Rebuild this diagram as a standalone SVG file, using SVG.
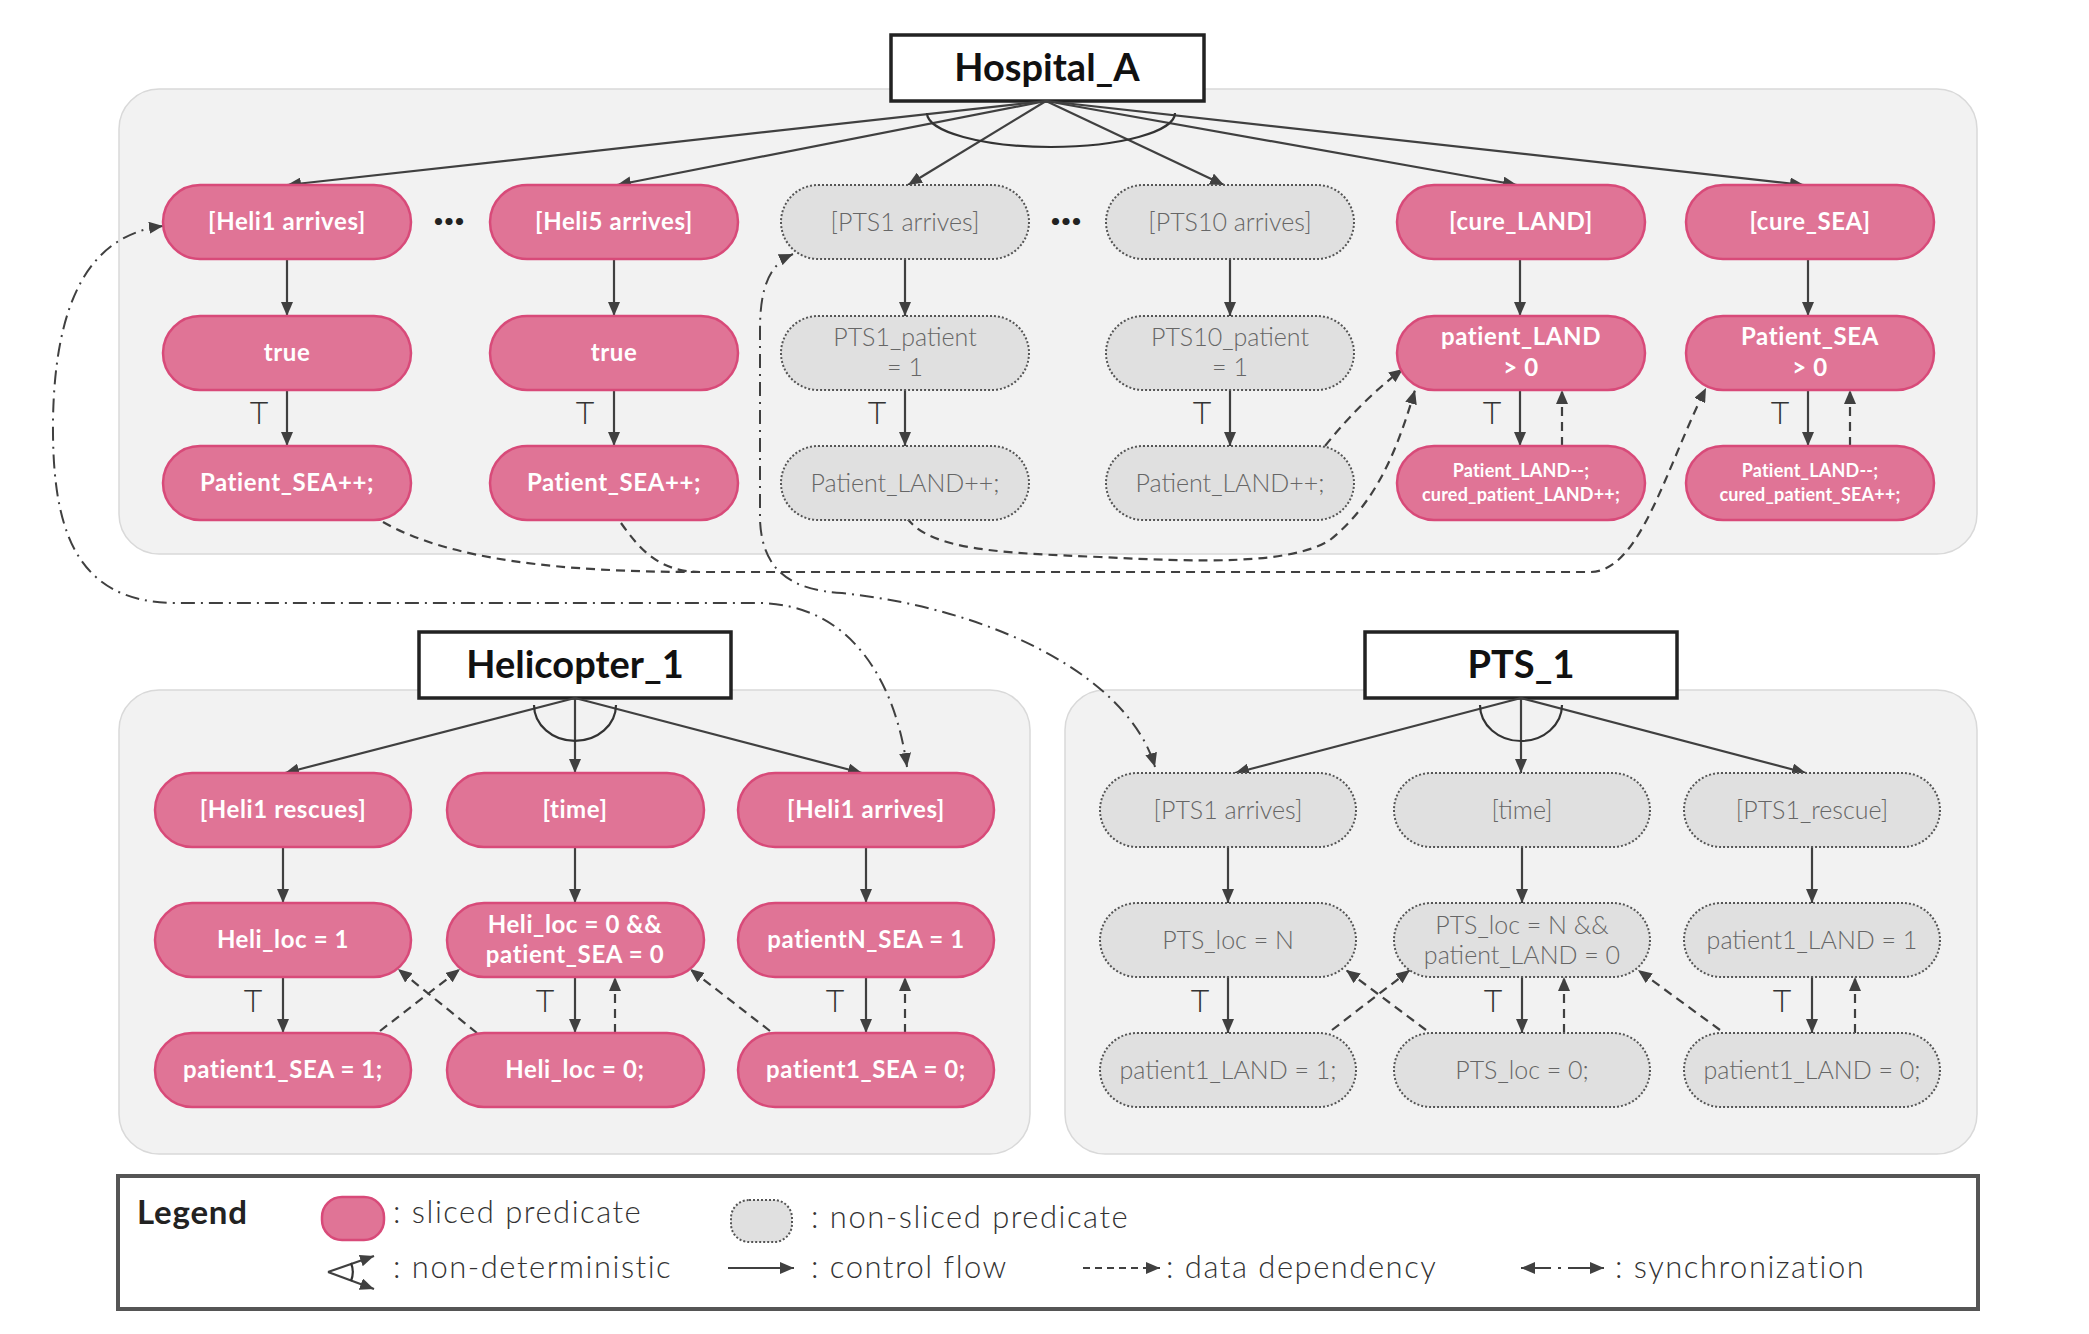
<svg xmlns="http://www.w3.org/2000/svg" width="2089" height="1334" viewBox="0 0 2089 1334">
<defs>
<marker id="ah" markerUnits="userSpaceOnUse" markerWidth="14" markerHeight="12" refX="14" refY="6" orient="auto-start-reverse" viewBox="0 0 14 12"><path d="M0,0 L14,6 L0,12 z" fill="#404040"/></marker>
</defs>
<style>
text{font-family:Lato,"Liberation Sans",sans-serif}
.panel{fill:#f2f2f2;stroke:#d9d9d9;stroke-width:1.5}
.tbox rect{fill:#fff;stroke:#222;stroke-width:3.5}
.tbox text{font-weight:700;font-size:38px;fill:#111;text-anchor:middle}
.pk rect{fill:#e07496;stroke:#d84a79;stroke-width:2.5}
.pk text{font-weight:700;font-size:24px;fill:#fff;text-anchor:middle;letter-spacing:0.6px}
.pk text.sm{font-size:18px;letter-spacing:0.2px}
.gr rect{fill:#e0e0e0;stroke:#555;stroke-width:2;stroke-dasharray:2 2}
.gr text{font-weight:300;font-size:25px;fill:#666;text-anchor:middle}
.cf{stroke:#404040;stroke-width:2.2;fill:none;marker-end:url(#ah)}
.dd{stroke:#404040;stroke-width:2.2;fill:none;stroke-dasharray:9 6;marker-end:url(#ah)}
.sy{stroke:#404040;stroke-width:2;fill:none;stroke-dasharray:14 6 2 6;marker-start:url(#ah);marker-end:url(#ah)}
.arc{stroke:#333;stroke-width:2.2;fill:none}
.T{font-weight:300;font-size:32px;fill:#333;text-anchor:middle}
.dots{font-weight:900;font-size:44px;fill:#222;text-anchor:middle}
.lg{font-weight:300;font-size:31px;fill:#333;letter-spacing:1.5px}
</style>

<rect class="panel" x="119" y="89" width="1858" height="465" rx="40"/>
<rect class="panel" x="119" y="690" width="911" height="464" rx="40"/>
<rect class="panel" x="1065" y="690" width="912" height="464" rx="40"/>

<g id="hospital_A" class="tbox"><rect x="891" y="35" width="313" height="66"/><text x="1047" y="81">Hospital_A</text></g>
<g id="helicopter_1" class="tbox"><rect x="419" y="632" width="312" height="66"/><text x="575" y="678">Helicopter_1</text></g>
<g id="pts_1" class="tbox"><rect x="1365" y="632" width="312" height="66"/><text x="1521" y="678">PTS_1</text></g>

<g id="connectors">
<path class="cf" d="M1046,101 L287,185"/>
<path class="cf" d="M1046,101 L617,185"/>
<path class="cf" d="M1046,101 L908,185"/>
<path class="cf" d="M1046,101 L1224,185"/>
<path class="cf" d="M1046,101 L1517,185"/>
<path class="cf" d="M1046,101 L1804,185"/>
<path class="arc" d="M927,113 A124,34 0 0 0 1175,113"/>
<path class="cf" d="M287,259 L287,316"/><path class="cf" d="M287,390 L287,446"/>
<path class="cf" d="M614,259 L614,316"/><path class="cf" d="M614,390 L614,446"/>
<path class="cf" d="M905,259 L905,316"/><path class="cf" d="M905,390 L905,446"/>
<path class="cf" d="M1230,259 L1230,316"/><path class="cf" d="M1230,390 L1230,446"/>
<path class="cf" d="M1520,259 L1520,316"/><path class="cf" d="M1520,390 L1520,446"/>
<path class="cf" d="M1808,259 L1808,316"/><path class="cf" d="M1808,390 L1808,446"/>
<path class="dd" d="M1562,446 L1562,390"/>
<path class="dd" d="M1850,446 L1850,390"/>
<path class="dd" d="M383,522 C450,560 560,572 700,572 L1590,572 C1640,572 1665,470 1706,388"/>
<path class="dd" d="M621,523 C640,550 660,572 700,572" style="marker-end:none"/>
<path class="dd" d="M907,518 C930,550 1000,553 1100,557 C1200,562 1290,565 1330,540 C1380,500 1400,440 1415,390"/>
<path class="dd" d="M1325,446 C1350,415 1375,390 1403,369"/>
<path class="sy" d="M163,226 C90,235 55,300 53,420 C52,520 70,603 176,603 L757,603 C850,603 895,680 907,767"/>
<path class="sy" d="M793,254 C768,265 760,290 760,330 L760,520 C762,570 790,590 842,593 C1000,610 1130,680 1155,767"/>

<path class="cf" d="M575,698 L285,773"/>
<path class="cf" d="M575,698 L575,773"/>
<path class="cf" d="M575,698 L862,773"/>
<path class="arc" d="M534,705 A41,36 0 0 0 616,705"/>
<path class="cf" d="M283,847 L283,903"/><path class="cf" d="M283,977 L283,1033"/>
<path class="cf" d="M575,847 L575,903"/><path class="cf" d="M575,977 L575,1033"/>
<path class="cf" d="M866,847 L866,903"/><path class="cf" d="M866,977 L866,1033"/>
<path class="dd" d="M615,1033 L615,977"/>
<path class="dd" d="M905,1033 L905,977"/>
<path class="dd" d="M380,1031 L460,969"/>
<path class="dd" d="M477,1033 L398,969"/>
<path class="dd" d="M770,1031 L690,969"/>

<path class="cf" d="M1521,698 L1235,773"/>
<path class="cf" d="M1521,698 L1521,773"/>
<path class="cf" d="M1521,698 L1806,773"/>
<path class="arc" d="M1480,705 A41,36 0 0 0 1562,705"/>
<path class="cf" d="M1228,847 L1228,903"/><path class="cf" d="M1228,977 L1228,1033"/>
<path class="cf" d="M1522,847 L1522,903"/><path class="cf" d="M1522,977 L1522,1033"/>
<path class="cf" d="M1812,847 L1812,903"/><path class="cf" d="M1812,977 L1812,1033"/>
<path class="dd" d="M1564,1033 L1564,977"/>
<path class="dd" d="M1855,1033 L1855,977"/>
<path class="dd" d="M1332,1030 L1410,970"/>
<path class="dd" d="M1426,1030 L1346,970"/>
<path class="dd" d="M1720,1030 L1638,970"/>
</g>

<g id="labels">
<text class="T" x="259" y="424">T</text>
<text class="T" x="585" y="424">T</text>
<text class="T" x="877" y="424">T</text>
<text class="T" x="1202" y="424">T</text>
<text class="T" x="1492" y="424">T</text>
<text class="T" x="1780" y="424">T</text>
<text class="T" x="253" y="1012">T</text>
<text class="T" x="545" y="1012">T</text>
<text class="T" x="835" y="1012">T</text>
<text class="T" x="1200" y="1012">T</text>
<text class="T" x="1493" y="1012">T</text>
<text class="T" x="1782" y="1012">T</text>
<text class="dots" x="449" y="225">...</text>
<text class="dots" x="1066" y="225">...</text>
</g>

<!-- Hospital nodes -->
<g id="h_heli1_arrives" class="pk"><rect x="163" y="185" width="248" height="74" rx="37"/><text x="287" y="230">[Heli1 arrives]</text></g>
<g id="h_heli5_arrives" class="pk"><rect x="490" y="185" width="248" height="74" rx="37"/><text x="614" y="230">[Heli5 arrives]</text></g>
<g id="h_pts1_arrives" class="gr"><rect x="781" y="185" width="248" height="74" rx="37"/><text x="905" y="231">[PTS1 arrives]</text></g>
<g id="h_pts10_arrives" class="gr"><rect x="1106" y="185" width="248" height="74" rx="37"/><text x="1230" y="231">[PTS10 arrives]</text></g>
<g id="h_cure_land" class="pk"><rect x="1397" y="185" width="248" height="74" rx="37"/><text x="1521" y="230">[cure_LAND]</text></g>
<g id="h_cure_sea" class="pk"><rect x="1686" y="185" width="248" height="74" rx="37"/><text x="1810" y="230">[cure_SEA]</text></g>

<g id="h_true1" class="pk"><rect x="163" y="316" width="248" height="74" rx="37"/><text x="287" y="361">true</text></g>
<g id="h_true5" class="pk"><rect x="490" y="316" width="248" height="74" rx="37"/><text x="614" y="361">true</text></g>
<g id="h_pts1_patient" class="gr"><rect x="781" y="316" width="248" height="74" rx="37"/><text x="905" y="346">PTS1_patient</text><text x="905" y="376">= 1</text></g>
<g id="h_pts10_patient" class="gr"><rect x="1106" y="316" width="248" height="74" rx="37"/><text x="1230" y="346">PTS10_patient</text><text x="1230" y="376">= 1</text></g>
<g id="h_patient_land" class="pk"><rect x="1397" y="316" width="248" height="74" rx="37"/><text x="1521" y="345">patient_LAND</text><text x="1521" y="376">&gt; 0</text></g>
<g id="h_patient_sea" class="pk"><rect x="1686" y="316" width="248" height="74" rx="37"/><text x="1810" y="345">Patient_SEA</text><text x="1810" y="376">&gt; 0</text></g>

<g id="h_sea_inc1" class="pk"><rect x="163" y="446" width="248" height="74" rx="37"/><text x="287" y="491">Patient_SEA++;</text></g>
<g id="h_sea_inc5" class="pk"><rect x="490" y="446" width="248" height="74" rx="37"/><text x="614" y="491">Patient_SEA++;</text></g>
<g id="h_land_inc1" class="gr"><rect x="781" y="446" width="248" height="74" rx="37"/><text x="905" y="492">Patient_LAND++;</text></g>
<g id="h_land_inc10" class="gr"><rect x="1106" y="446" width="248" height="74" rx="37"/><text x="1230" y="492">Patient_LAND++;</text></g>
<g id="h_cured_land" class="pk"><rect x="1397" y="446" width="248" height="74" rx="37"/><text class="sm" x="1521" y="477">Patient_LAND--;</text><text class="sm" x="1521" y="501">cured_patient_LAND++;</text></g>
<g id="h_cured_sea" class="pk"><rect x="1686" y="446" width="248" height="74" rx="37"/><text class="sm" x="1810" y="477">Patient_LAND--;</text><text class="sm" x="1810" y="501">cured_patient_SEA++;</text></g>

<!-- Helicopter nodes -->
<g id="c_heli1_rescues" class="pk"><rect x="155" y="773" width="256" height="74" rx="37"/><text x="283" y="818">[Heli1 rescues]</text></g>
<g id="c_time" class="pk"><rect x="447" y="773" width="257" height="74" rx="37"/><text x="575" y="818">[time]</text></g>
<g id="c_heli1_arrives" class="pk"><rect x="738" y="773" width="256" height="74" rx="37"/><text x="866" y="818">[Heli1 arrives]</text></g>
<g id="c_heli_loc1" class="pk"><rect x="155" y="903" width="256" height="74" rx="37"/><text x="283" y="948">Heli_loc = 1</text></g>
<g id="c_heli_loc0_cond" class="pk"><rect x="447" y="903" width="257" height="74" rx="37"/><text x="575" y="933">Heli_loc = 0 &amp;&amp;</text><text x="575" y="963">patient_SEA = 0</text></g>
<g id="c_patientN_sea" class="pk"><rect x="738" y="903" width="256" height="74" rx="37"/><text x="866" y="948">patientN_SEA = 1</text></g>
<g id="c_patient1_sea1" class="pk"><rect x="155" y="1033" width="256" height="74" rx="37"/><text x="283" y="1078">patient1_SEA = 1;</text></g>
<g id="c_heli_loc0" class="pk"><rect x="447" y="1033" width="257" height="74" rx="37"/><text x="575" y="1078">Heli_loc = 0;</text></g>
<g id="c_patient1_sea0" class="pk"><rect x="738" y="1033" width="256" height="74" rx="37"/><text x="866" y="1078">patient1_SEA = 0;</text></g>

<!-- PTS nodes -->
<g id="p_pts1_arrives" class="gr"><rect x="1100" y="773" width="256" height="74" rx="37"/><text x="1228" y="819">[PTS1 arrives]</text></g>
<g id="p_time" class="gr"><rect x="1394" y="773" width="256" height="74" rx="37"/><text x="1522" y="819">[time]</text></g>
<g id="p_pts1_rescue" class="gr"><rect x="1684" y="773" width="256" height="74" rx="37"/><text x="1812" y="819">[PTS1_rescue]</text></g>
<g id="p_pts_locN" class="gr"><rect x="1100" y="903" width="256" height="74" rx="37"/><text x="1228" y="949">PTS_loc = N</text></g>
<g id="p_pts_locN_cond" class="gr"><rect x="1394" y="903" width="256" height="74" rx="37"/><text x="1522" y="934">PTS_loc = N &amp;&amp;</text><text x="1522" y="964">patient_LAND = 0</text></g>
<g id="p_patient1_land" class="gr"><rect x="1684" y="903" width="256" height="74" rx="37"/><text x="1812" y="949">patient1_LAND = 1</text></g>
<g id="p_patient1_land1" class="gr"><rect x="1100" y="1033" width="256" height="74" rx="37"/><text x="1228" y="1079">patient1_LAND = 1;</text></g>
<g id="p_pts_loc0" class="gr"><rect x="1394" y="1033" width="256" height="74" rx="37"/><text x="1522" y="1079">PTS_loc = 0;</text></g>
<g id="p_patient1_land0" class="gr"><rect x="1684" y="1033" width="256" height="74" rx="37"/><text x="1812" y="1079">patient1_LAND = 0;</text></g>

<!-- Legend -->
<g id="legend">
<rect x="118" y="1176" width="1860" height="133" fill="#fff" stroke="#555" stroke-width="4"/>
<text x="137" y="1224" font-weight="700" font-size="33" letter-spacing="0.8" fill="#222">Legend</text>
<g class="pk"><rect x="322" y="1197" width="62" height="43" rx="20"/></g>
<text class="lg" x="393" y="1223">: sliced predicate</text>
<g class="gr"><rect x="731" y="1200" width="61" height="42" rx="18"/></g>
<text class="lg" x="811" y="1228">: non-sliced predicate</text>
<path class="cf" d="M328,1272 L374,1256"/>
<path class="cf" d="M328,1272 L374,1289"/>
<path class="arc" d="M351,1263 A24,24 0 0 1 351,1281"/>
<text class="lg" x="393" y="1278">: non-deterministic</text>
<path class="cf" d="M728,1268 L794,1268"/>
<text class="lg" x="811" y="1278">: control flow</text>
<path class="dd" d="M1083,1268 L1160,1268" style="stroke-dasharray:7 5"/>
<text class="lg" x="1166" y="1278">: data dependency</text>
<path class="sy" d="M1521,1268 L1604,1268" style="stroke-dasharray:30 7 3 7 40"/>
<text class="lg" x="1615" y="1278">: synchronization</text>
</g>
</svg>
